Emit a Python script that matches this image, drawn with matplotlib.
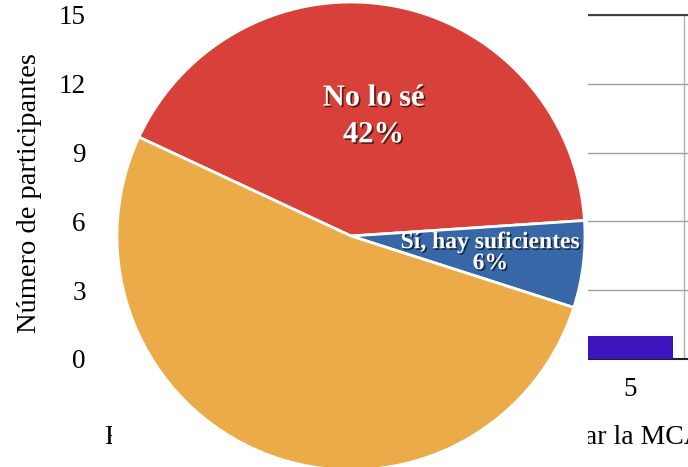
import matplotlib
matplotlib.use("Agg")
import matplotlib.pyplot as plt
import matplotlib.patheffects as pe
import numpy as np

plt.rcParams['font.family'] = ['Liberation Serif', 'DejaVu Serif']

# ---- background bar chart data (only the visible bar) ----
bar_x = [5]
bar_values = [1]
y_ticks = [0, 3, 6, 9, 12, 15]
y_label = "Número de participantes"
x_label = "Frecuencia con que se cree preciso actualizar la MCA"

# ---- pie data ----
pie_labels = ["No lo sé", "Sí, hay suficientes", ""]
pie_values = [42, 6, 52]
pie_colors = ["#D8413A", "#3767A6", "#EBAB48"]
bar_color = "#3B14BE"

W, H = 688, 467
fig = plt.figure(figsize=(W / 100, H / 100), dpi=100)

def px_rect(l, t, r, b):
    return [l / W, 1 - b / H, (r - l) / W, (b - t) / H]

# bar chart axes
ax = fig.add_axes(px_rect(144, 15, 700, 359))
ax.set_zorder(0)
ax.bar(bar_x, bar_values, width=0.8, color=bar_color, zorder=3)
ax.set_xlim(0.5, 5.648)
ax.set_ylim(0, 15)
ax.set_yticks(y_ticks)
ax.set_xticks(bar_x)
ax.grid(axis='y', color='#a0a0a0', linewidth=1.0, zorder=0)
ax.axvline(5.5, color='#b0b0b0', linewidth=1.0, zorder=1)
for s in ['left', 'right']:
    ax.spines[s].set_visible(False)
ax.spines['top'].set_color('#404040')
ax.spines['top'].set_linewidth(1.5)
ax.spines['bottom'].set_color('#202020')
ax.spines['bottom'].set_linewidth(1.5)
ax.tick_params(axis='y', length=0, pad=42, labelsize=19.5)
ax.tick_params(axis='x', length=0, pad=13, labelsize=19.5)
fig.text(30 / W, 1 - 193 / H, y_label, fontsize=20.5, rotation=90,
         ha='center', va='center', zorder=1)
fig.text(105 / W, 1 - 438 / H, x_label, fontsize=20, ha='left', va='center', zorder=1)

# white box with pie on top
pax = fig.add_axes(px_rect(112, 0, 588, 467))
pax.set_zorder(10)
pax.set_facecolor('white')
wedges, _ = pax.pie(pie_values, colors=pie_colors, startangle=155, counterclock=False,
                    radius=1.0, center=(0, 0), frame=True,
                    wedgeprops=dict(edgecolor='white', linewidth=2.0))
pax.set_xlim(-(351 - 112) / 234, (588 - 351) / 234)
pax.set_ylim(-(467 - 236) / 234, 236 / 234)
pax.set_aspect('auto')
pax.set_xticks([]); pax.set_yticks([])
for s in pax.spines.values():
    s.set_visible(False)

shadow = [pe.withSimplePatchShadow(offset=(1.2, -1.2), shadow_rgbFace='black', alpha=0.6)]
sizes = [22, 17]
spacing = [1.35, 1.0]
dists = [0.52, 0.6]
total = sum(pie_values)
for i, w in enumerate(wedges):
    if not pie_labels[i]:
        continue
    ang = np.deg2rad((w.theta1 + w.theta2) / 2)
    d = dists[i]
    pax.text(d * np.cos(ang), d * np.sin(ang),
             f"{pie_labels[i]}\n{pie_values[i] / total * 100:.0f}%",
             ha='center', va='center', color='white', fontweight='bold',
             fontsize=sizes[i], linespacing=spacing[i], clip_on=True,
             path_effects=shadow)

fig.savefig("out.png", dpi=100)
